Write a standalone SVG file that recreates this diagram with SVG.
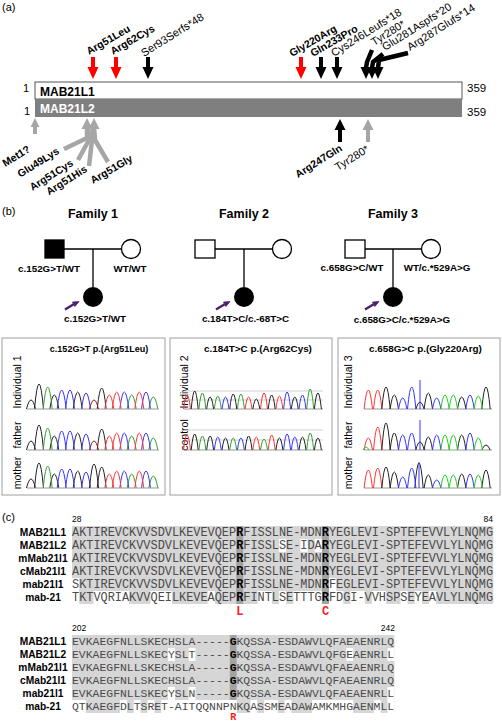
<svg xmlns="http://www.w3.org/2000/svg" xmlns:xlink="http://www.w3.org/1999/xlink" width="502" height="722" viewBox="0 0 502 722">
<defs>
<style>
text{font-family:"Liberation Sans",Arial,sans-serif;fill:#000}
.b{font-weight:bold}
.lab{font-size:11px}
.lb{font-size:10.5px;font-weight:bold}
.red{fill:#ff0000}
.blk{fill:#000}
.gry{fill:#a6a6a6}
.gl{stroke:#a6a6a6;stroke-width:4.5;fill:none;stroke-linejoin:round}
.kl{stroke:#000;stroke-width:4.5;fill:none;stroke-linejoin:round}
.ped{stroke:#000;stroke-width:1.3;fill:none}
.gen{font-size:9.8px;font-weight:bold;text-anchor:middle}
.box{fill:#fff;stroke:#a0a0a0;stroke-width:1}
.rl{font-size:10.5px;text-anchor:middle}
.tk{fill:none;stroke:#222;stroke-width:1}
.tr{fill:none;stroke:#ff3535;stroke-width:1}
.tg{fill:none;stroke:#30a030;stroke-width:1}
.tb{fill:none;stroke:#3535ff;stroke-width:1}
.tg2{fill:none;stroke:#20d020;stroke-width:1}
.base{stroke:#999;stroke-width:1}
.hl{stroke:#c4c4c4;stroke-width:0.8}
.seq1{font-family:"Liberation Mono","Courier New",monospace;font-size:11.9px;fill:#4a4a4a}
.seq2{font-family:"Liberation Mono","Courier New",monospace;font-size:11.43px;fill:#4a4a4a}
.sb{font-weight:bold;fill:#000}
.nm{font-size:10.2px;font-weight:bold;text-anchor:middle}
.num{font-size:8.5px}
.mk{font-family:"Liberation Mono","Courier New",monospace;font-weight:bold;font-size:12px;fill:#ff2020;text-anchor:middle}
.cons{fill:#d6d6d6}
.wh{fill:#fff}
.dk{fill:#a3a3a3}
</style>
<path id="dn" d="M-2,-22H2V-12H5.5L0,0L-5.5,-12H-2Z"/>
<path id="up" d="M-2,23H2V11H5.5L0,0L-5.5,11H-2Z"/>
<path id="dh" d="M-5.5,-12H5.5L0,0Z"/>
<path id="uh" d="M-5.5,11H5.5L0,0Z"/>
<g id="pa" fill="#4a2070" stroke="#4a2070">
<line x1="-28" y1="12.5" x2="-19.3" y2="7.3" stroke-width="2.5"/>
<path d="M-14,4.5L-20.5,5.1L-18.1,9.5Z" stroke-width="0.8"/>
</g>
<g id="c1">
<path class="tk" d="M26.5,0Q31,-18 35.5,0M34.5,0Q39,-50 43.5,0M49.8,0Q54.3,-28 58.8,0M73.2,0Q77.7,-34 82.2,0M97.2,0Q101.7,-42 106.2,0"/>
<path class="tg" d="M43.2,0Q47.7,-44 52.2,0M127.2,0Q131.7,-28 136.2,0M148.8,0Q153.3,-24 157.8,0"/>
<path class="tb" d="M57.2,0Q61.7,-38 66.2,0M65.5,0Q70,-38 74.5,0M81.5,0Q86,-32 90.5,0M119.8,0Q124.3,-34 128.8,0M141.5,0Q146,-34 150.5,0"/>
<path class="tr" d="M104.8,0Q109.3,-28 113.8,0M112.2,0Q116.7,-34 121.2,0M134.8,0Q139.3,-34 143.8,0"/>
<line class="base" x1="27" y1="0" x2="159" y2="0"/>
</g>
</defs>

<rect width="502" height="722" fill="#fff"/>

<!-- Panel (a) -->
<text x="2" y="11" style="font-size:11px">(a)</text>
<g id="mab21l1">
<rect x="35" y="82" width="427" height="17" fill="#fff" stroke="#555" stroke-width="1"/>
<text x="40" y="96" class="b" style="font-size:12px">MAB21L1</text>
<text x="29" y="92" text-anchor="end" style="font-size:11px">1</text>
<text x="467" y="92" style="font-size:11.5px">359</text>
</g>
<g id="mab21l2">
<rect x="35" y="99" width="427" height="18" fill="#7f7f7f"/>
<text x="40" y="113" class="b" style="font-size:12px;fill:#fff">MAB21L2</text>
<text x="30" y="115" text-anchor="end" style="font-size:11px">1</text>
<text x="467" y="116" style="font-size:11.5px">359</text>
</g>

<g id="connectors-a">
<use href="#dn" x="93" y="79" class="red"/>
<use href="#dn" x="116" y="79" class="red"/>
<use href="#dn" x="148" y="79" class="blk"/>
<use href="#dn" x="301" y="79" class="red"/>
<use href="#dn" x="321" y="79" class="blk"/>
<use href="#dn" x="337" y="79" class="blk"/>
<polyline class="kl" points="366,68 367,62 372,50"/>
<polyline class="kl" points="372,68 373,62 383,54"/>
<polyline class="kl" points="378,68 379,60 408,53"/>
<use href="#dh" x="366" y="79" class="blk"/>
<use href="#dh" x="372" y="79" class="blk"/>
<use href="#dh" x="378" y="79" class="blk"/>
<path class="gry" d="M33,134V127H30.5L35,118L39.5,127H37V134Z"/>
<polyline class="gl" points="87,127 87,138 64,149"/>
<polyline class="gl" points="88,127 89,140 78,160"/>
<polyline class="gl" points="93,127 92,140 89,166"/>
<polyline class="gl" points="94,127 95,140 108,162"/>
<use href="#uh" x="87" y="118" class="gry"/>
<use href="#uh" x="94" y="118" class="gry"/>
<use href="#up" x="340" y="119" class="blk"/>
<use href="#up" x="368" y="119" class="gry"/>
</g>

<g id="labels-a">
<text class="lb" transform="translate(89,55) rotate(-30)">Arg51Leu</text>
<text class="lb" transform="translate(113,55) rotate(-30)">Arg62Cys</text>
<text class="lab" transform="translate(144,57) rotate(-32)">Ser93Serfs*48</text>
<text class="lb" transform="translate(292,57) rotate(-30)">Gly220Arg</text>
<text class="lb" transform="translate(313,57) rotate(-30)">Gln233Pro</text>
<text class="lab" transform="translate(334,57) rotate(-32)">Cys246Leufs*18</text>
<text class="lab" transform="translate(374,46) rotate(-32)">Tyr280*</text>
<text class="lab" transform="translate(385,51) rotate(-32)">Glu281Aspfs*20</text>
<text class="lab" transform="translate(410,51) rotate(-32)">Arg287Glufs*14</text>
<text class="lb" text-anchor="end" transform="translate(31,151) rotate(-32)">Met1?</text>
<text class="lb" text-anchor="end" transform="translate(60,153) rotate(-32)">Glu49Lys</text>
<text class="lb" text-anchor="end" transform="translate(74,165) rotate(-32)">Arg51Cys</text>
<text class="lb" text-anchor="end" transform="translate(88,171) rotate(-32)">Arg51His</text>
<text class="lb" transform="translate(93,184) rotate(-30)">Arg51Gly</text>
<text class="lb" text-anchor="end" transform="translate(343,150) rotate(-32)">Arg247Gln</text>
<text class="lab" text-anchor="end" transform="translate(370,151) rotate(-32)">Tyr280*</text>
</g>

<!-- Panel (b) -->
<text x="2" y="215" style="font-size:11px">(b)</text>
<g id="family1">
<text x="93" y="218" class="b" style="font-size:12.5px" text-anchor="middle">Family 1</text>
<line class="ped" x1="64" y1="249" x2="121.5" y2="249"/>
<line class="ped" x1="93" y1="249" x2="93" y2="287"/>
<rect x="45" y="240" width="19" height="18" fill="#000" stroke="#000" stroke-width="1.3"/>
<circle cx="131" cy="249" r="9.5" fill="#fff" stroke="#000" stroke-width="1.3"/>
<circle cx="93" cy="297" r="10" fill="#000"/>
<use href="#pa" x="93" y="297"/>
<text class="gen" x="49" y="272">c.152G&gt;T/WT</text>
<text class="gen" x="130" y="272">WT/WT</text>
<text class="gen" x="95" y="322">c.152G&gt;T/WT</text>
</g>
<g id="family2">
<text x="244" y="218" class="b" style="font-size:12.5px" text-anchor="middle">Family 2</text>
<line class="ped" x1="215" y1="249" x2="272.5" y2="249"/>
<line class="ped" x1="244" y1="249" x2="244" y2="287"/>
<rect x="195" y="240" width="20" height="18" fill="#fff" stroke="#000" stroke-width="1.3"/>
<circle cx="282" cy="249" r="9.5" fill="#fff" stroke="#000" stroke-width="1.3"/>
<circle cx="244" cy="297" r="10" fill="#000"/>
<use href="#pa" x="244" y="297"/>
<text class="gen" x="245.5" y="322">c.184T&gt;C/c.-68T&gt;C</text>
</g>
<g id="family3">
<text x="393" y="218" class="b" style="font-size:12.5px" text-anchor="middle">Family 3</text>
<line class="ped" x1="365" y1="249" x2="421.5" y2="249"/>
<line class="ped" x1="393" y1="249" x2="393" y2="287"/>
<rect x="345" y="240" width="20" height="18" fill="#fff" stroke="#000" stroke-width="1.3"/>
<circle cx="431" cy="249" r="9.5" fill="#fff" stroke="#000" stroke-width="1.3"/>
<circle cx="393" cy="297" r="10" fill="#000"/>
<use href="#pa" x="393" y="297"/>
<text class="gen" x="352" y="271">c.658G&gt;C/WT</text>
<text class="gen" x="437" y="271">WT/c.*529A&gt;G</text>
<text class="gen" x="402" y="323">c.658G&gt;C/c.*529A&gt;G</text>
</g>

<g id="chrom1">
<rect class="box" x="2" y="338" width="163" height="157"/>
<text x="99" y="352" class="b" style="font-size:9px" text-anchor="middle">c.152G&gt;T p.(Arg51Leu)</text>
<text class="rl" transform="translate(21,382) rotate(-90)">Individual 1</text>
<text class="rl" transform="translate(21,435) rotate(-90)">father</text>
<text class="rl" transform="translate(21,473) rotate(-90)">mother</text>
<use href="#c1" y="409"/>
<path d="M89.5,409Q94,391 98.5,409" fill="none" stroke="#a01818"/>
<use href="#c1" y="450"/>
<path d="M89.5,450Q94,432 98.5,450" fill="none" stroke="#a01818"/>
<use href="#c1" y="488"/>
<path d="M89.5,488Q94,440 98.5,488" class="tk"/>
</g>

<g id="chrom2">
<rect class="box" x="170" y="338" width="162" height="157"/>
<text x="258" y="352" class="b" style="font-size:9.9px" text-anchor="middle">c.184T&gt;C p.(Arg62Cys)</text>
<text class="rl" transform="translate(188,382) rotate(-90)">Individual 2</text>
<text class="rl" transform="translate(188,435) rotate(-90)">control</text>
<g transform="translate(0,409)">
<line class="hl" x1="184" y1="-18" x2="323" y2="-18"/>
<line class="hl" x1="184" y1="-9" x2="323" y2="-9"/>
<line class="base" x1="184" y1="0" x2="323" y2="0"/>
<path class="tr" d="M183.5,0Q187,-28 190.5,0M245.1,0Q248.6,-24 252.1,0M260.5,0Q264,-32 267.5,0M275.9,0Q279.4,-26 282.9,0"/>
<path class="tk" d="M191.2,0Q194.7,-36 198.2,0M206.6,0Q210.1,-24 213.6,0M229.7,0Q233.2,-30 236.7,0M252.8,0Q256.3,-20 259.8,0M268.2,0Q271.7,-28 275.2,0M291.3,0Q294.8,-24 298.3,0M314.4,0Q317.9,-32 321.4,0"/>
<path class="tg" d="M198.9,0Q202.4,-32 205.9,0M214.3,0Q217.8,-26 221.3,0M237.4,0Q240.9,-30 244.4,0M306.7,0Q310.2,-40 313.7,0"/>
<path class="tb" d="M222,0Q225.5,-24 229,0M283.6,0Q287.1,-34 290.6,0M299,0Q302.5,-28 306,0"/>
</g>
<g transform="translate(0,450)">
<line class="hl" x1="184" y1="-20" x2="323" y2="-20"/>
<line class="hl" x1="184" y1="-10" x2="323" y2="-10"/>
<line class="base" x1="184" y1="0" x2="323" y2="0"/>
<path class="tr" d="M183.5,0Q187,-30 190.5,0M252.8,0Q256.3,-26 259.8,0M268.2,0Q271.7,-30 275.2,0"/>
<path class="tk" d="M191.2,0Q194.7,-32 198.2,0M206.6,0Q210.1,-28 213.6,0M222,0Q225.5,-24 229,0M245.1,0Q248.6,-28 252.1,0M275.9,0Q279.4,-24 282.9,0M299,0Q302.5,-26 306,0M314.4,0Q317.9,-24 321.4,0"/>
<path class="tg" d="M198.9,0Q202.4,-28 205.9,0M229.7,0Q233.2,-24 236.7,0M260.5,0Q264,-22 267.5,0M306.7,0Q310.2,-34 313.7,0"/>
<path class="tb" d="M214.3,0Q217.8,-26 221.3,0M237.4,0Q240.9,-24 244.4,0M283.6,0Q287.1,-32 290.6,0M291.3,0Q294.8,-26 298.3,0"/>
</g>
</g>

<g id="chrom3">
<rect class="box" x="338" y="338" width="162" height="157"/>
<text x="425.5" y="352" class="b" style="font-size:9.9px" text-anchor="middle">c.658G&gt;C p.(Gly220Arg)</text>
<text class="rl" transform="translate(352,382) rotate(-90)">Individual 3</text>
<text class="rl" transform="translate(352,435) rotate(-90)">father</text>
<text class="rl" transform="translate(352,473) rotate(-90)">mother</text>
<g transform="translate(0,409)">
<line class="base" x1="364" y1="0" x2="492" y2="0"/>
<path class="tr" d="M364.1,0Q368.3,-38 372.5,0M373.5,0Q377.7,-38 381.9,0"/>
<path class="tk" d="M381.8,0Q386,-44 390.2,0M390.1,0Q394.3,-28 398.5,0M415.8,0Q420,-14 424.2,0M424.1,0Q428.3,-32 432.5,0M457.5,0Q461.7,-24 465.9,0M481.8,0Q486,-44 490.2,0"/>
<path class="tb" d="M398.5,0Q402.7,-22 406.9,0M407.5,0Q411.7,-44 415.9,0M432.5,0Q436.7,-22 440.9,0M465.8,0Q470,-28 474.2,0M420,-29V0"/>
<path class="tg2" d="M440.8,0Q445,-28 449.2,0M449.1,0Q453.3,-28 457.5,0M474.1,0Q478.3,-26 482.5,0"/>
</g>
<g transform="translate(0,450)">
<line class="base" x1="364" y1="0" x2="492" y2="0"/>
<path class="tr" d="M364.1,0Q368.3,-24 372.5,0M373.5,0Q377.7,-46 381.9,0"/>
<path class="tk" d="M381.8,0Q386,-54 390.2,0M390.1,0Q394.3,-34 398.5,0M415.8,0Q420,-16 424.2,0M424.1,0Q428.3,-26 432.5,0M457.5,0Q461.7,-30 465.9,0M481.8,0Q486,-10 490.2,0"/>
<path class="tb" d="M398.5,0Q402.7,-30 406.9,0M407.5,0Q411.7,-34 415.9,0M432.5,0Q436.7,-30 440.9,0M465.8,0Q470,-34 474.2,0M420,-30V0"/>
<path class="tg2" d="M440.8,0Q445,-30 449.2,0M449.1,0Q453.3,-30 457.5,0M474.1,0Q478.3,-24 482.5,0M363,0Q366,-6 369,0"/>
</g>
<g transform="translate(0,488)">
<line class="base" x1="364" y1="0" x2="492" y2="0"/>
<path class="tr" d="M364.1,0Q368.3,-36 372.5,0M373.5,0Q377.7,-40 381.9,0"/>
<path class="tk" d="M381.8,0Q386,-42 390.2,0M390.1,0Q394.3,-32 398.5,0M414.8,0Q419,-50 423.2,0M424.1,0Q428.3,-26 432.5,0M457.5,0Q461.7,-28 465.9,0M481.8,0Q486,-36 490.2,0"/>
<path class="tb" d="M398.5,0Q402.7,-22 406.9,0M407.5,0Q411.7,-40 415.9,0M432.5,0Q436.7,-16 440.9,0M465.8,0Q470,-28 474.2,0M419,-26V0"/>
<path class="tg2" d="M440.8,0Q445,-26 449.2,0M449.1,0Q453.3,-26 457.5,0M474.1,0Q478.3,-26 482.5,0"/>
</g>
</g>

<!-- Panel (c) -->
<text x="2" y="521" style="font-size:11px">(c)</text>
<g id="align1">
<rect class="cons" x="72" y="526" width="421.3" height="78"/>
<rect class="wh" x="279.06" y="539" width="7.14" height="13"/>
<rect class="wh" x="300.48" y="539" width="7.14" height="13"/>
<rect class="wh" x="314.76" y="539" width="7.14" height="13"/>
<rect class="wh" x="72" y="578" width="7.14" height="13"/>
<rect class="wh" x="329.04" y="578" width="7.14" height="13"/>
<rect class="wh" x="72" y="591" width="7.14" height="13"/>
<rect class="wh" x="93.42" y="591" width="35.7" height="13"/>
<rect class="wh" x="150.54" y="591" width="21.42" height="13"/>
<rect class="wh" x="207.66" y="591" width="7.14" height="13"/>
<rect class="wh" x="257.64" y="591" width="14.28" height="13"/>
<rect class="wh" x="279.06" y="591" width="7.14" height="13"/>
<rect class="wh" x="293.34" y="591" width="28.56" height="13"/>
<rect class="wh" x="329.04" y="591" width="14.28" height="13"/>
<rect class="wh" x="350.46" y="591" width="14.28" height="13"/>
<rect class="wh" x="371.88" y="591" width="14.28" height="13"/>
<rect class="wh" x="400.44" y="591" width="7.14" height="13"/>
<rect class="wh" x="414.72" y="591" width="7.14" height="13"/>
<rect class="wh" x="429" y="591" width="7.14" height="13"/>
<rect class="dk" x="236.2" y="526" width="7.14" height="78"/>
<rect class="dk" x="321.9" y="526" width="7.14" height="78"/>
<text class="num" x="72" y="522">28</text>
<text class="num" x="493" y="522" text-anchor="end">84</text>
<text class="nm" x="43" y="536">MAB21L1</text>
<text class="nm" x="43" y="549">MAB21L2</text>
<text class="nm" x="43" y="562">mMab21l1</text>
<text class="nm" x="43" y="575">cMab21l1</text>
<text class="nm" x="43" y="588">mab21l1</text>
<text class="nm" x="43" y="601">mab-21</text>
<text class="seq1" x="72" y="536">AKTIREVCKVVSDVLKEVEVQEP<tspan class="sb">R</tspan>FISSLNE-MDN<tspan class="sb">R</tspan>YEGLEVI-SPTEFEVVLYLNQMG</text>
<text class="seq1" x="72" y="549">AKTIREVCKVVSDVLKEVEVQEP<tspan class="sb">R</tspan>FISSLSE-IDA<tspan class="sb">R</tspan>YEGLEVI-SPTEFEVVLYLNQMG</text>
<text class="seq1" x="72" y="562">AKTIREVCKVVSDVLKEVEVQEP<tspan class="sb">R</tspan>FISSLNE-MDN<tspan class="sb">R</tspan>YEGLEVI-SPTEFEVVLYLNQMG</text>
<text class="seq1" x="72" y="575">AKTIREVCKVVSDVLKEVEVQEP<tspan class="sb">R</tspan>FISSLNE-MDN<tspan class="sb">R</tspan>YEGLEVI-SPTEFEVVLYLNQMG</text>
<text class="seq1" x="72" y="588">SKTIREVCKVVSDVLKEVEVQEP<tspan class="sb">R</tspan>FISSLNE-MDN<tspan class="sb">R</tspan>FEGLEVI-SPTEFEVVLYLNQMG</text>
<text class="seq1" x="72" y="601">TKTVQRIAKVVQEILKEVEAQEP<tspan class="sb">R</tspan>FINTLSETTTG<tspan class="sb">R</tspan>FDGI-VVHSPSEYEAVLYLNQMG</text>
<text class="mk" x="239.8" y="615">L</text>
<text class="mk" x="325.5" y="615">C</text>
</g>

<g id="align2">
<rect class="cons" x="72" y="635" width="322.4" height="78"/>
<rect class="wh" x="168.04" y="648" width="6.86" height="13"/>
<rect class="wh" x="188.62" y="648" width="6.86" height="13"/>
<rect class="wh" x="346.4" y="648" width="6.86" height="13"/>
<rect class="wh" x="387.56" y="648" width="6.86" height="13"/>
<rect class="wh" x="168.04" y="687" width="6.86" height="13"/>
<rect class="wh" x="188.62" y="687" width="6.86" height="13"/>
<rect class="wh" x="387.56" y="687" width="6.86" height="13"/>
<rect class="wh" x="72" y="700" width="13.72" height="13"/>
<rect class="wh" x="120.02" y="700" width="6.86" height="13"/>
<rect class="wh" x="133.74" y="700" width="6.86" height="13"/>
<rect class="wh" x="147.46" y="700" width="6.86" height="13"/>
<rect class="wh" x="161.18" y="700" width="75.46" height="13"/>
<rect class="wh" x="250.36" y="700" width="6.86" height="13"/>
<rect class="wh" x="264.08" y="700" width="13.72" height="13"/>
<rect class="wh" x="284.66" y="700" width="6.86" height="13"/>
<rect class="wh" x="312.1" y="700" width="41.16" height="13"/>
<rect class="wh" x="373.84" y="700" width="6.86" height="13"/>
<rect class="wh" x="387.56" y="700" width="6.86" height="13"/>
<rect class="dk" x="229.78" y="635" width="6.86" height="65"/>
<text class="num" x="72" y="631">202</text>
<text class="num" x="395" y="631" text-anchor="end">242</text>
<text class="nm" x="43" y="645">MAB21L1</text>
<text class="nm" x="43" y="658">MAB21L2</text>
<text class="nm" x="43" y="671">mMab21l1</text>
<text class="nm" x="43" y="684">cMab21l1</text>
<text class="nm" x="43" y="697">mab21l1</text>
<text class="nm" x="43" y="710">mab-21</text>
<text class="seq2" x="72" y="645">EVKAEGFNLLSKECHSLA-----<tspan class="sb">G</tspan>KQSSA-ESDAWVLQFAEAENRLQ</text>
<text class="seq2" x="72" y="658">EVKAEGFNLLSKECYSLT-----<tspan class="sb">G</tspan>KQSSA-ESDAWVLQFGEAENRLL</text>
<text class="seq2" x="72" y="671">EVKAEGFNLLSKECHSLA-----<tspan class="sb">G</tspan>KQSSA-ESDAWVLQFAEAENRLQ</text>
<text class="seq2" x="72" y="684">EVKAEGFNLLSKECHSLA-----<tspan class="sb">G</tspan>KQSSA-ESDAWVLQFAEAENRLQ</text>
<text class="seq2" x="72" y="697">EVKAEGFNLLSKECYSLN-----<tspan class="sb">G</tspan>KQSSA-ESDAWVLQFAEAENRLL</text>
<text class="seq2" x="72" y="710">QTKAEGFDLTSRET-AITQQNNPNKQASSMEADAWAMKMHGAENMLL</text>
<text class="mk" x="233.2" y="719.5" style="font-size:10px">R</text>
</g>
</svg>
